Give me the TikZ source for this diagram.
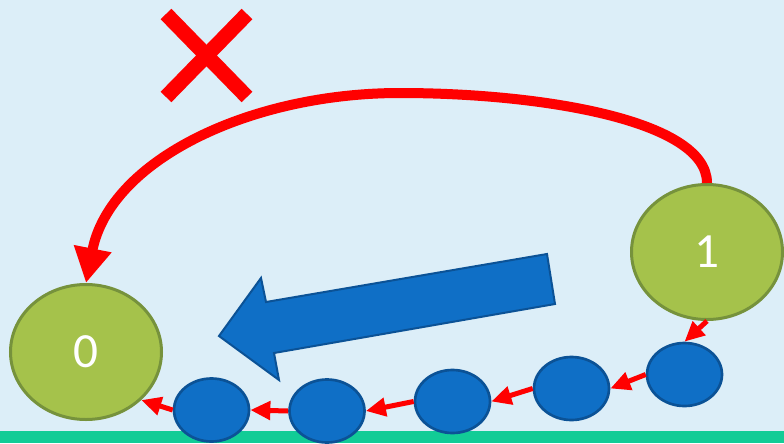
\documentclass[tikz,border=0pt]{standalone}
\usepackage{fontspec}
\setmainfont{Carlito}
\usetikzlibrary{arrows.meta,shapes.geometric}

\definecolor{skybg}{RGB}{220,238,248}
\definecolor{floorgreen}{RGB}{18,204,150}
\definecolor{leafgreen}{RGB}{165,194,75}
\definecolor{leafedge}{RGB}{118,146,60}
\definecolor{ballblue}{RGB}{15,111,198}
\definecolor{balledge}{RGB}{11,82,150}

\tikzset{
  state/.style={ellipse, draw=leafedge, line width=0.09cm, fill=leafgreen,
    minimum width=4.53cm, minimum height=4.05cm, inner sep=0pt,
    text=white, font=\fontsize{42}{48}\selectfont},
  ball/.style={ellipse, draw=balledge, line width=0.08cm, fill=ballblue,
    minimum width=2.25cm, minimum height=1.89cm, inner sep=0pt},
  hop/.style={red, line width=0.15cm, -{Triangle[length=0.6cm, width=0.54cm]}},
  jump/.style={red, line width=0.3cm, -{Triangle[length=1.05cm, width=1.08cm]}}
}

\begin{document}
\begin{tikzpicture}[x=0.03cm, y=-0.03cm]
\useasboundingbox (0,0) rectangle (784,443);
\fill[skybg] (0,0) rectangle (784,443);
\fill[floorgreen] (0,431) rectangle (784,443);

% the two states
\node[state] (zero) at (86,352) {0};
\node[state] (one) at (707,252) {1};

% small steps along the floor
\node[ball] (s1) at (684.5,374.5) {};
\node[ball] (s2) at (571.5,388.5) {};
\node[ball] (s3) at (452.5,401.5) {};
\node[ball] (s4) at (327,411) {};
\node[ball] (s5) at (211.5,410) {};

\draw[hop] (one.south) -- (s1.north);
\draw[hop] (s1.west) -- (s2.east);
\draw[hop] (s2.west) -- (s3.east);
\draw[hop] (s3.west) -- (s4.east);
\draw[hop] (s4.west) -- (s5.east);
\draw[hop] (s5.west) -- (zero.-41);

% direct jump, crossed out
\draw[jump] (one.north) .. controls (707,120) and (540,93) .. (400,93)
  .. controls (250,93) and (110,160) .. (zero.north);
\draw[red, line width=0.45cm] (166,14) -- (247,97) (247,14) -- (166,97);

% big blue arrow
\draw[balledge, line width=0.06cm, fill=ballblue]
  (547,254) -- (266,302) -- (261,278) -- (219,336) -- (279,380)
  -- (274,353) -- (555,304) -- cycle;
\end{tikzpicture}
\end{document}
